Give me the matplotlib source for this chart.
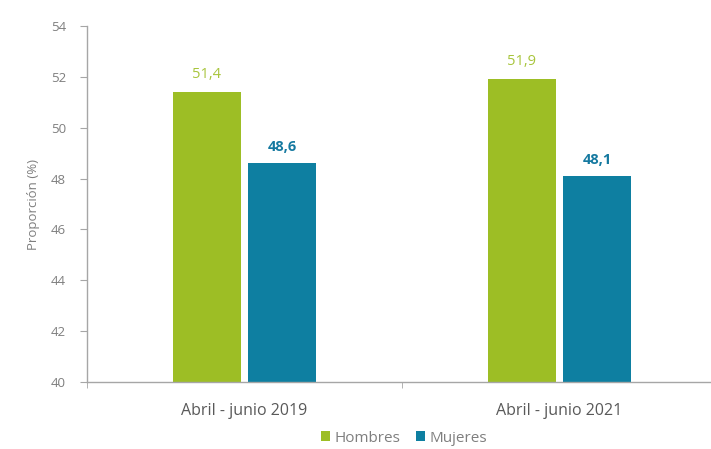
import matplotlib
matplotlib.use("Agg")
import matplotlib.pyplot as plt
import numpy as np

categories = ["Abril - junio 2019", "Abril - junio 2021"]
hombres = [51.4, 51.9]
mujeres = [48.6, 48.1]
series_names = ["Hombres", "Mujeres"]
yticks = [40, 42, 44, 46, 48, 50, 52, 54]

green = "#9DBE25"
blue = "#0E7FA1"
green_lbl = "#A8C53C"
blue_lbl = "#1579A0"
gray = "#7F7F7F"

plt.rcParams['font.family'] = ['Open Sans', 'DejaVu Sans']

fig = plt.figure(figsize=(7.11, 4.49), dpi=100)
ax = fig.add_axes([87/711, 67/449, 630/711, 356/449])

x = np.arange(len(categories))
w = 0.216
off = 0.12
b1 = ax.bar(x - off, hombres, width=w, color=green, label=series_names[0])
b2 = ax.bar(x + off, mujeres, width=w, color=blue, label=series_names[1])

for rect, v in zip(b1, hombres):
    ax.text(rect.get_x() + rect.get_width()/2, v + 0.4, f"{v:.1f}".replace('.', ','),
            ha='center', va='bottom', color=green_lbl, fontsize=10.5)
for rect, v in zip(b2, mujeres):
    ax.text(rect.get_x() + rect.get_width()/2, v + 0.35, f"{v:.1f}".replace('.', ','),
            ha='center', va='bottom', color=blue_lbl, fontsize=10.5, fontweight='bold')

ax.set_xlim(-0.5, 1.5)
ax.set_ylim(40, 54)
ax.set_yticks(yticks)
ax.set_yticklabels([str(t) for t in yticks])
ax.set_xticks(x)
ax.set_xticklabels(categories)
ax.set_xticks([-0.5, 0.5, 1.5], minor=True)

for s in ['top', 'right']:
    ax.spines[s].set_visible(False)
for s in ['left', 'bottom']:
    ax.spines[s].set_color('#A6A6A6')
    ax.spines[s].set_linewidth(1.0)

ax.tick_params(axis='y', colors='#A6A6A6', labelcolor=gray, labelsize=9.5, length=5, direction='out', pad=10)
ax.tick_params(axis='x', which='major', length=0, labelcolor='#595959', labelsize=11.5, pad=15)
ax.tick_params(axis='x', which='minor', length=4, colors='#A6A6A6')

ax.set_ylabel("Proporción (%)", color=gray, fontsize=9.5, labelpad=8)

leg = fig.legend(loc='center', bbox_to_anchor=(404/711, 1 - 438/449), ncol=2, frameon=False,
                 fontsize=11, handlelength=0.6, handleheight=0.6, handletextpad=0.3, columnspacing=1.0,
                 labelcolor=gray)

fig.savefig("out.png", dpi=100)
